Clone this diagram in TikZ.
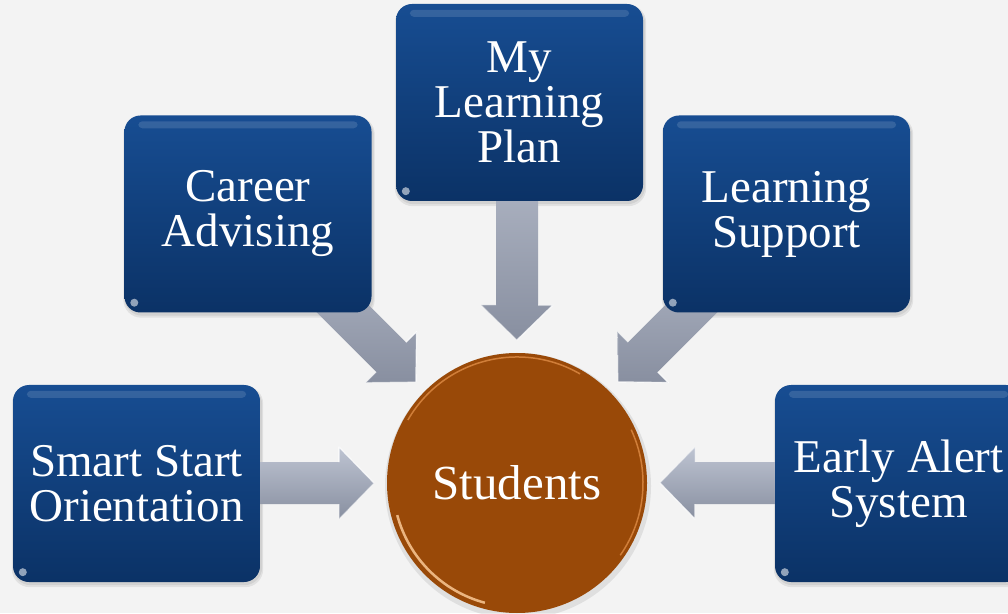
\documentclass[tikz,border=0pt]{standalone}
\usepackage{fontspec}
\setmainfont{Liberation Serif}
\usetikzlibrary{calc}
\definecolor{bgc}{RGB}{243,243,243}
\definecolor{boxtop}{RGB}{23,77,146}
\definecolor{boxbot}{RGB}{11,50,102}
\definecolor{stuc}{RGB}{153,73,8}
\definecolor{rimlight}{RGB}{250,200,150}
\definecolor{rimmid}{RGB}{222,140,70}
\definecolor{arrtop}{RGB}{190,196,210}
\definecolor{arrbot}{RGB}{136,143,160}
\pgfdeclarelayer{back}
\pgfdeclarelayer{bg}
\pgfsetlayers{back,bg,main}
\tikzset{
  topic/.style={rectangle, rounded corners=16pt, minimum width=247pt,
    minimum height=197pt, inner sep=0pt, top color=boxtop, bottom color=boxbot,
    text=white, align=center, font=\fontsize{47}{45}\selectfont},
  hub/.style={circle, minimum size=260pt, inner sep=0pt, fill=stuc,
    text=white, font=\fontsize{49}{49}\selectfont},
  feed/.style={shade, top color=arrtop, bottom color=arrbot},
  gloss/.style={white, opacity=.13, rounded corners=4pt},
  softshade/.style={black, opacity=.07, rounded corners=18pt},
  feedarrow/.pic={
    \path[feed] (0,0) -- (-35,36) -- (-35,21) -- (-240,21) -- (-240,-21)
      -- (-35,-21) -- (-35,-36) -- cycle;
    \draw[white, opacity=.8, line width=1.2pt, line join=round] (-35,21) -- (-35,36) -- (0,0);
    \draw[white, opacity=.45, line width=1pt, line join=round] (-35,-21) -- (-35,-36) -- (0,0);
  }
}
\begin{document}
\begin{tikzpicture}[x=1pt,y=1pt]
\useasboundingbox (0,0) rectangle (1008,613);
\begin{pgfonlayer}{back}
  \fill[bgc] (0,0) rectangle (1008,613);
\end{pgfonlayer}

\node[topic] (ss) at (136.5,129.5) {Smart Start\\Orientation};
\node[topic] (ca) at (248,399) {Career\\Advising};
\node[topic] (ml) at (519.5,510.5) {My\\Learning\\Plan};
\node[topic] (ls) at (786.5,399) {Learning\\Support};
\node[topic] (ea) at (898.5,129.5) {Early Alert\\System};
\node[hub] (stu) at (517,130) {Students};

\foreach \n in {ss,ca,ml,ls,ea}{
  \fill[gloss] ($(\n.north west)+(14,-6)$) rectangle ($(\n.north east)+(-14,-13)$);
  \fill[white, opacity=.55] ($(\n.south west)+(10,10)$) circle (4pt);
  \begin{pgfonlayer}{back}
    \fill[softshade] ($(\n.south west)+(-1,-5)$) rectangle ($(\n.north east)+(3,-1)$);
    \fill[softshade] ($(\n.south west)+(0,-3)$) rectangle ($(\n.north east)+(2,-2)$);
  \end{pgfonlayer}
}
\begin{pgfonlayer}{back}
  \fill[black, opacity=.08] ($(stu.center)+(1,-3)$) circle (133);
\end{pgfonlayer}

\draw[rimlight, line width=2.5pt, opacity=.85] (stu.center) ++(195:124) arc (195:255:124);
\draw[rimmid, line width=1.5pt, opacity=.8] (stu.center) ++(60:126) arc (60:150:126);
\draw[rimmid, line width=1.5pt, opacity=.8] (stu.center) ++(-35:126) arc (-35:25:126);

\path (stu.center) ++(180:143) coordinate (tss);
\path (stu.center) ++(135:143) coordinate (tca);
\path (stu.center) ++(90:143) coordinate (tml);
\path (stu.center) ++(45:143) coordinate (tls);
\path (stu.center) ++(0:143) coordinate (tea);

\begin{pgfonlayer}{bg}
  \pic[rotate=0] at (tss) {feedarrow};
  \pic[rotate=-45] at (tca) {feedarrow};
  \pic[rotate=-90] at (tml) {feedarrow};
  \pic[rotate=-135] at (tls) {feedarrow};
  \pic[rotate=180] at (tea) {feedarrow};
\end{pgfonlayer}
\end{tikzpicture}
\end{document}
